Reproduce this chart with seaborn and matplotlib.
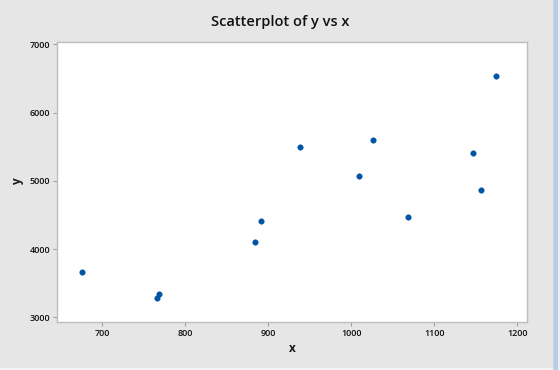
import matplotlib
matplotlib.use("Agg")
import matplotlib.pyplot as plt
import seaborn as sns
import pandas as pd
from matplotlib.patches import Rectangle

# Data
x_vals = [675.9, 768.2, 766.2, 884.6, 891.8, 938.4, 1009.4, 1026.2, 1068.7, 1146.6, 1156.2, 1174.7]
y_vals = [3668, 3337, 3283, 4099, 4407, 5491, 5075, 5602, 4474, 5412, 4870, 6531]
x_ticks = [700, 800, 900, 1000, 1100, 1200]
y_ticks = [3000, 4000, 5000, 6000, 7000]

sns.set_theme(style="white")
plt.rcParams['font.family'] = ['Open Sans', 'DejaVu Sans']

df = pd.DataFrame({"x": x_vals, "y": y_vals})

bg = "#e6e6e6"
fig = plt.figure(figsize=(5.6, 3.7), dpi=100)
fig.patch.set_facecolor(bg)
ax = fig.add_axes([0.1023, 0.1305, 0.8382, 0.7568])
ax.set_facecolor("white")

sns.scatterplot(data=df, x="x", y="y", ax=ax, color="#0054a6", s=16,
                edgecolor="#0054a6", linewidth=0.3, zorder=3)

ax.set_xlim(646.2, 1211.3)
ax.set_ylim(2936, 7038)
ax.set_xticks(x_ticks)
ax.set_yticks(y_ticks)
ax.set_xticklabels([str(t) for t in x_ticks])
ax.set_yticklabels([str(t) for t in y_ticks])

for sp in ax.spines.values():
    sp.set_color("#bdbdbd")
    sp.set_linewidth(1.0)
ax.tick_params(axis="both", which="major", length=3, width=0.8, color="#a0a0a0",
               labelsize=6.5, labelcolor="#111111", pad=2, direction="out",
               bottom=True, left=True)
for lab in ax.get_xticklabels() + ax.get_yticklabels():
    lab.set_fontweight("semibold")

ax.set_xlabel("x", fontsize=8.5, fontweight="bold", color="#1a1a1a", labelpad=3)
ax.set_ylabel("y", fontsize=8.5, fontweight="bold", color="#1a1a1a", labelpad=4)

fig.text(0.5, 0.94, "Scatterplot of y vs x", ha="center", va="center",
         fontsize=10.5, fontweight="semibold", color="#111111")

# window edge decorations
fig.patches.append(Rectangle((553/560, 0), 1/560, 1, transform=fig.transFigure,
                             facecolor="#d0d0d0", edgecolor="none"))
fig.patches.append(Rectangle((554/560, 0), 4/560, 1, transform=fig.transFigure,
                             facecolor="#b4cfe8", edgecolor="none"))
fig.patches.append(Rectangle((558/560, 0), 2/560, 1, transform=fig.transFigure,
                             facecolor="#f0f0f0", edgecolor="none"))
fig.patches.append(Rectangle((0, 0), 553/560, 2/370, transform=fig.transFigure,
                             facecolor="#f2f2f2", edgecolor="none"))

fig.savefig("out.png", dpi=100, facecolor=bg)
